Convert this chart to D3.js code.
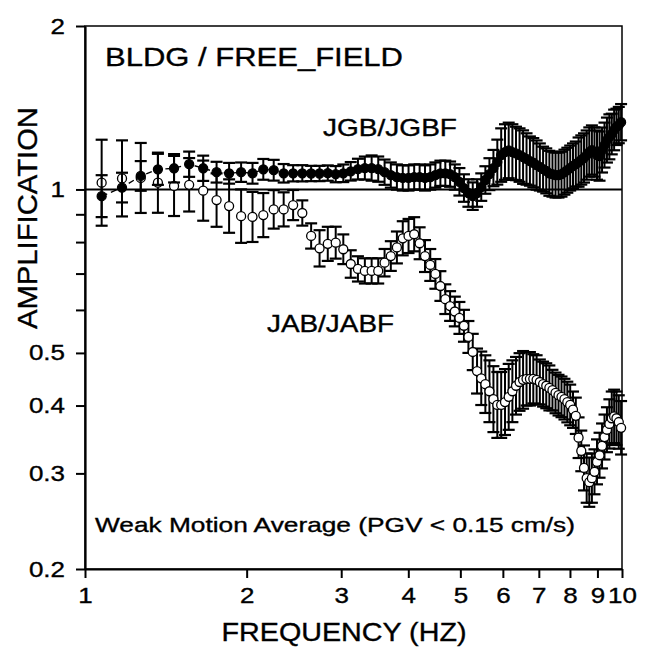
<!DOCTYPE html>
<html>
<head>
<meta charset="utf-8">
<script src="https://cdn.jsdelivr.net/npm/d3@7"></script>
<style>
  body { margin: 0; background: #fff; }
  svg { display: block; font-family: 'Liberation Sans', Arial, sans-serif; }
  svg text { fill: #000; stroke: #000; stroke-width: 0.35; }
  .axis path, .axis line { stroke: #000; }
  .axis text { font-size: 22px; }
</style>
</head>
<body>
<svg width="650" height="658"></svg>
<script>
// frequency samples (Hz)
var freqs = [1.074, 1.172, 1.270, 1.367, 1.465, 1.563, 1.660, 1.758, 1.855, 1.953,
  2.051, 2.148, 2.246, 2.344, 2.441, 2.539, 2.637, 2.734, 2.832, 2.930,
  3.027, 3.125, 3.223, 3.320, 3.418, 3.516, 3.613, 3.711, 3.809, 3.906,
  4.004, 4.102, 4.199, 4.297, 4.395, 4.492, 4.590, 4.688, 4.785, 4.883,
  4.980, 5.078, 5.176, 5.273, 5.371, 5.469, 5.566, 5.664, 5.762, 5.859,
  5.957, 6.055, 6.152, 6.250, 6.348, 6.445, 6.543, 6.641, 6.738, 6.836,
  6.934, 7.031, 7.129, 7.227, 7.324, 7.422, 7.520, 7.617, 7.715, 7.813,
  7.910, 8.008, 8.105, 8.203, 8.301, 8.398, 8.496, 8.594, 8.691, 8.789,
  8.887, 8.984, 9.082, 9.180, 9.277, 9.375, 9.473, 9.570, 9.668, 9.766,
  9.863, 9.961];

// JGB/JGBF (filled circles)
var jgb = [0.972, 1.008, 1.059, 1.089, 1.094, 1.113, 1.094, 1.076, 1.071, 1.076,
  1.071, 1.089, 1.085, 1.071, 1.071, 1.071, 1.070, 1.070, 1.072, 1.067,
  1.071, 1.080, 1.090, 1.095, 1.095, 1.090, 1.076, 1.063, 1.054, 1.050,
  1.050, 1.054, 1.054, 1.050, 1.054, 1.063, 1.071, 1.071, 1.067, 1.054,
  1.033, 1.006, 0.985, 0.972, 0.985, 1.010, 1.041, 1.067, 1.095, 1.123,
  1.157, 1.172, 1.180, 1.172, 1.165, 1.157, 1.147, 1.138, 1.128, 1.120,
  1.109, 1.100, 1.090, 1.082, 1.071, 1.067, 1.063, 1.063, 1.067, 1.076,
  1.085, 1.095, 1.105, 1.114, 1.123, 1.133, 1.143, 1.157, 1.172, 1.182,
  1.172, 1.157, 1.152, 1.182, 1.207, 1.233, 1.250, 1.265, 1.287, 1.304,
  1.314, 1.330];
// multiplicative error (bar spans value/err .. value*err)
var jgbErr = [1.093, 1.065, 1.065, 1.068, 1.062, 1.055, 1.055, 1.045, 1.045, 1.042,
  1.045, 1.045, 1.045, 1.040, 1.035, 1.035, 1.033, 1.033, 1.033, 1.035,
  1.038, 1.040, 1.045, 1.050, 1.055, 1.055, 1.055, 1.055, 1.055, 1.055,
  1.055, 1.055, 1.055, 1.055, 1.055, 1.055, 1.055, 1.055, 1.055, 1.055,
  1.060, 1.060, 1.060, 1.060, 1.060, 1.060, 1.060, 1.070, 1.080, 1.100,
  1.120, 1.125, 1.125, 1.125, 1.120, 1.120, 1.120, 1.115, 1.110, 1.110,
  1.110, 1.105, 1.100, 1.100, 1.100, 1.100, 1.100, 1.100, 1.100, 1.100,
  1.100, 1.100, 1.100, 1.100, 1.110, 1.110, 1.110, 1.110, 1.110, 1.110,
  1.110, 1.110, 1.110, 1.100, 1.100, 1.100, 1.100, 1.090, 1.090, 1.080,
  1.080, 1.080];

// JAB/JABF (open circles)
var jab = [1.029, 1.048, 1.050, 1.029, 1.015, 1.020, 0.995, 0.956, 0.932, 0.893,
  0.890, 0.897, 0.919, 0.919, 0.936, 0.905, 0.821, 0.779, 0.794, 0.798,
  0.776, 0.729, 0.714, 0.708, 0.708, 0.708, 0.733, 0.754, 0.782, 0.813,
  0.821, 0.827, 0.796, 0.754, 0.726, 0.699, 0.664, 0.628, 0.610, 0.596,
  0.580, 0.561, 0.535, 0.502, 0.463, 0.449, 0.438, 0.425, 0.411, 0.401,
  0.401, 0.406, 0.415, 0.425, 0.435, 0.442, 0.446, 0.448, 0.448, 0.448,
  0.446, 0.442, 0.438, 0.435, 0.431, 0.427, 0.422, 0.418, 0.415, 0.411,
  0.406, 0.401, 0.393, 0.383, 0.349, 0.330, 0.307, 0.294, 0.289, 0.294,
  0.302, 0.315, 0.324, 0.337, 0.350, 0.361, 0.370, 0.379, 0.382, 0.379,
  0.373, 0.364];
var jabErr = [1.200, 1.175, 1.160, 1.136, 1.136, 1.120, 1.136, 1.120, 1.120, 1.120,
  1.112, 1.098, 1.085, 1.075, 1.066, 1.055, 1.055, 1.080, 1.075, 1.070,
  1.065, 1.060, 1.055, 1.055, 1.055, 1.055, 1.060, 1.065, 1.070, 1.075,
  1.075, 1.075, 1.070, 1.070, 1.070, 1.065, 1.065, 1.065, 1.065, 1.065,
  1.070, 1.070, 1.070, 1.080, 1.100, 1.120, 1.130, 1.140, 1.150, 1.150,
  1.150, 1.150, 1.150, 1.140, 1.130, 1.130, 1.130, 1.120, 1.120, 1.110,
  1.110, 1.100, 1.100, 1.100, 1.100, 1.090, 1.090, 1.090, 1.090, 1.090,
  1.090, 1.090, 1.080, 1.080, 1.090, 1.090, 1.100, 1.110, 1.110, 1.110,
  1.100, 1.100, 1.100, 1.100, 1.100, 1.100, 1.110, 1.120, 1.120, 1.120,
  1.120, 1.120];

var xTicks = [1, 2, 3, 4, 5, 6, 7, 8, 9, 10];
var yTicks = [0.2, 0.3, 0.4, 0.5, 0.6, 0.7, 0.8, 0.9, 1, 2];
var yLabels = [0.2, 0.3, 0.4, 0.5, 1, 2];

var svg = d3.select('svg');
var padding = { t: 26, r: 28, b: 89, l: 85 };
var chartWidth = +svg.attr('width') - padding.l - padding.r;
var chartHeight = +svg.attr('height') - padding.t - padding.b;

var xScale = d3.scaleLog().domain([1, 10]).range([0, chartWidth]);
var yScale = d3.scaleLog().domain([0.2, 2]).range([chartHeight, 0]);

var chartG = svg.append('g')
  .attr('transform', 'translate(' + [padding.l, padding.t] + ')');

// frame
chartG.append('rect')
  .attr('width', chartWidth)
  .attr('height', chartHeight)
  .attr('fill', 'none')
  .attr('stroke', '#000')
  .attr('stroke-width', 1.5);

// reference line at 1
chartG.append('line')
  .attr('x1', 0).attr('x2', chartWidth)
  .attr('y1', yScale(1)).attr('y2', yScale(1))
  .attr('stroke', '#000')
  .attr('stroke-width', 2);

var xAxisG = chartG.append('g')
  .attr('class', 'axis')
  .attr('transform', 'translate(0,' + chartHeight + ')')
  .call(d3.axisBottom(xScale).tickValues(xTicks).tickFormat(d3.format('d'))
    .tickSize(9).tickSizeOuter(0).tickPadding(9));
var yAxisG = chartG.append('g')
  .attr('class', 'axis')
  .call(d3.axisLeft(yScale).tickValues(yTicks)
    .tickFormat(d => yLabels.includes(d) ? String(d) : '')
    .tickSize(9).tickSizeOuter(0).tickPadding(11));
chartG.selectAll('.axis path').attr('stroke-width', 2.2);
chartG.selectAll('.axis line').attr('stroke-width', 2);

// labels in the reference are drawn a bit wider than the font
function stretch(sel, k) {
  sel.each(function() {
    var w = this.getComputedTextLength();
    if (w > 0) d3.select(this).attr('textLength', w * k).attr('lengthAdjust', 'spacingAndGlyphs');
  });
}
stretch(chartG.selectAll('.axis text'), 1.18);

function drawSeries(vals, errs, filled, cls) {
  var data = freqs.map((f, i) => ({ f: f, v: vals[i], e: errs[i] }));
  var g = chartG.append('g').attr('class', cls);
  var bars = g.selectAll('.bar').data(data).enter().append('g').attr('class', 'bar')
    .attr('transform', d => 'translate(' + xScale(d.f) + ',0)');
  bars.append('line')
    .attr('y1', d => yScale(d.v * d.e))
    .attr('y2', d => yScale(d.v / d.e))
    .attr('stroke', '#000').attr('stroke-width', 2);
  [d => yScale(d.v * d.e), d => yScale(d.v / d.e)].forEach(function(yf) {
    bars.append('line')
      .attr('x1', -6).attr('x2', 6)
      .attr('y1', yf).attr('y2', yf)
      .attr('stroke', '#000').attr('stroke-width', 2.2);
  });
  if (filled) {
    g.append('path')
      .datum(data)
      .attr('d', d3.line().x(d => xScale(d.f)).y(d => yScale(d.v)))
      .attr('fill', 'none')
      .attr('stroke', '#000')
      .attr('stroke-width', 1.4)
      .attr('stroke-dasharray', '6,4');
  }
  g.selectAll('circle').data(data).enter().append('circle')
    .attr('cx', d => xScale(d.f))
    .attr('cy', d => yScale(d.v))
    .attr('r', 4.5)
    .attr('fill', filled ? '#000' : '#fff')
    .attr('stroke', '#000')
    .attr('stroke-width', 1.3);
}

drawSeries(jab, jabErr, false, 'jab');
drawSeries(jgb, jgbErr, true, 'jgb');

// annotations
function addText(txt, x, y, size, len, anchor) {
  return svg.append('text')
    .text(txt)
    .attr('x', x).attr('y', y)
    .attr('font-size', size)
    .attr('text-anchor', anchor || 'start')
    .attr('textLength', len)
    .attr('lengthAdjust', 'spacingAndGlyphs');
}
addText('BLDG / FREE_FIELD', 105, 66, 26, 298);
addText('JGB/JGBF', 323, 136, 24, 134);
addText('JAB/JABF', 267, 332, 24, 127);
addText('Weak Motion Average (PGV < 0.15 cm/s)', 95, 532, 21, 480);
addText('FREQUENCY (HZ)', 344, 641, 25, 245, 'middle');
svg.append('text')
  .text('AMPLIFICATION')
  .attr('transform', 'translate(37,218) rotate(-90)')
  .attr('font-size', 27)
  .attr('text-anchor', 'middle')
  .attr('textLength', 222)
  .attr('lengthAdjust', 'spacingAndGlyphs');
</script>
</body>
</html>
